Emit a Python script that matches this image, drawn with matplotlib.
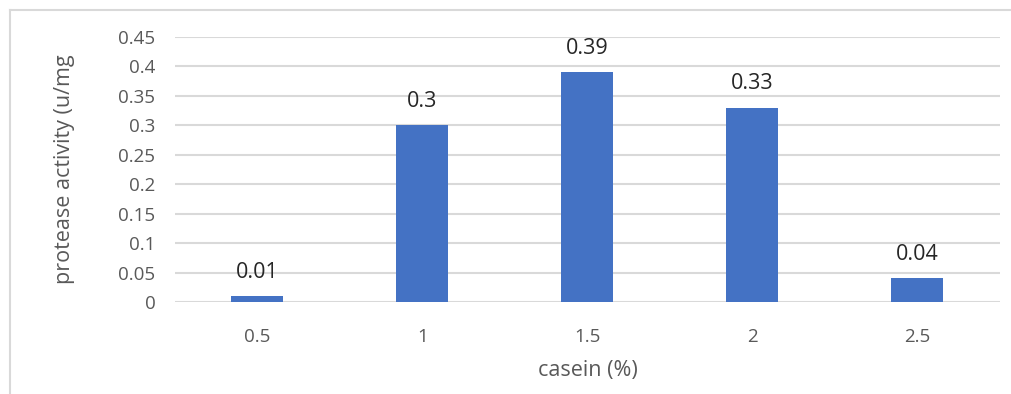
import matplotlib.pyplot as plt
from matplotlib.lines import Line2D

casein = ["0.5", "1", "1.5", "2", "2.5"]
activity = [0.01, 0.3, 0.39, 0.33, 0.04]
yticks = [0, 0.05, 0.1, 0.15, 0.2, 0.25, 0.3, 0.35, 0.4, 0.45]
ytick_labels = ["0", "0.05", "0.1", "0.15", "0.2", "0.25", "0.3", "0.35", "0.4", "0.45"]

plt.rcParams["font.family"] = ["Open Sans", "DejaVu Sans"]

fig = plt.figure(figsize=(10.11, 3.94), dpi=100)
ax = fig.add_axes([0.173, 0.2335, 0.816, 0.6725])

x = range(len(casein))
bars = ax.bar(x, activity, width=0.315, color="#4472C4", zorder=3)
for b, v in zip(bars, activity):
    ax.text(b.get_x() + b.get_width() / 2, v + 0.031, str(v), ha="center", va="baseline",
            fontsize=15.5, color="#262626")

ax.set_xlim(-0.5, len(casein) - 0.5)
ax.set_ylim(0, 0.45)
ax.set_xticks(list(x))
ax.set_xticklabels(casein)
ax.set_yticks(yticks)
ax.set_yticklabels(ytick_labels)
ax.tick_params(length=0, labelsize=13.5, labelcolor="#595959")
ax.tick_params(axis="x", pad=18.5)
ax.tick_params(axis="y", pad=14)
ax.grid(axis="y", color="#d9d9d9", linewidth=1.5, zorder=0)
for s in ax.spines.values():
    s.set_visible(False)

ax.set_xlabel("casein (%)", fontsize=15.5, color="#595959", labelpad=10)
ax.set_ylabel("protease activity (u/mg", fontsize=15.5, color="#595959", labelpad=31)

# outer chart border
fig.add_artist(Line2D([10 / 1011, 1], [1 - 10 / 394, 1 - 10 / 394], color="#d9d9d9", linewidth=1.5))
fig.add_artist(Line2D([10 / 1011, 10 / 1011], [0, 1 - 10 / 394], color="#d9d9d9", linewidth=1.5))

fig.savefig("out.png", dpi=100)
